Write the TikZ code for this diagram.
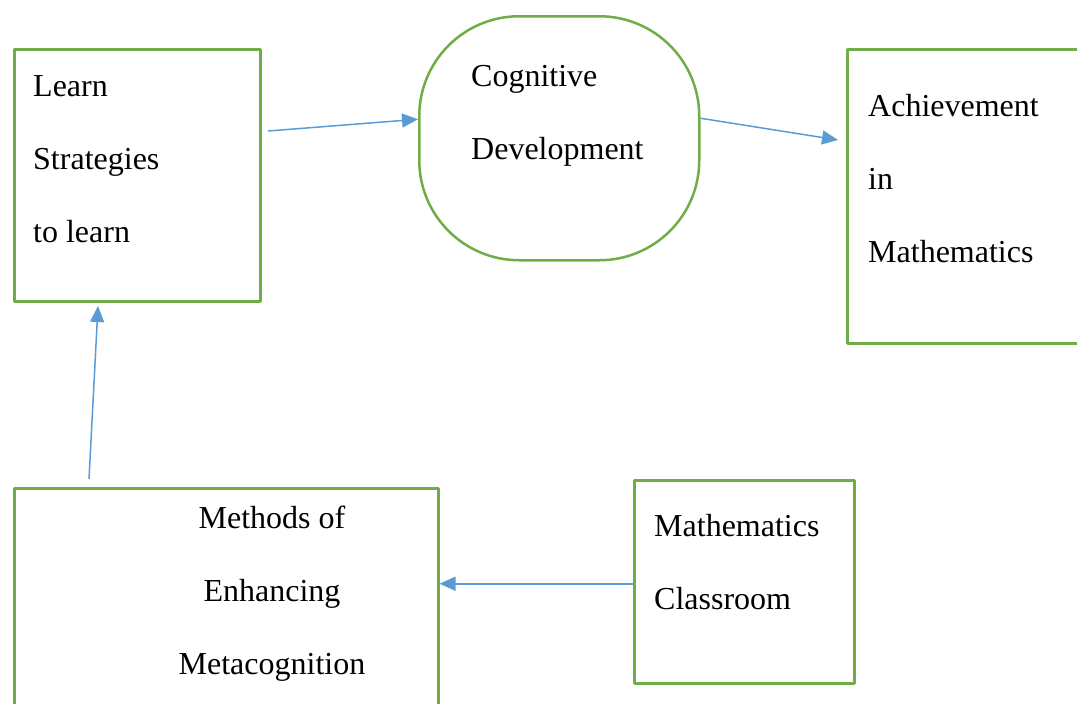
\documentclass[tikz,border=0pt]{standalone}
\usepackage{fontspec}
\setmainfont{Liberation Serif}
\usetikzlibrary{arrows.meta}
\definecolor{boxgreen}{HTML}{70AD47}
\definecolor{arrblue}{HTML}{5B9BD5}
\tikzset{
	box/.style={draw=boxgreen,line width=2.5pt,inner sep=0pt,anchor=north west},
	txt/.style={inner sep=0pt,anchor=north west,align=left,font=\fontsize{32}{73}\selectfont},
	arr/.style={draw=arrblue,line width=1.5pt,-{Triangle[length=16pt,width=14pt]}}
}
\begin{document}
\begin{tikzpicture}[x=1pt,y=-1pt,line join=round]
	\useasboundingbox (0,0) rectangle (1077,704);
	% boxes
	\node[box,minimum width=246pt,minimum height=252pt] (ls) at (13,48) {};
	\node[box,minimum width=280pt,minimum height=244pt,rounded corners=100pt] (cog) at (418,15) {};
	\node[box,minimum width=270pt,minimum height=294pt] (ach) at (846,48) {};
	\node[box,minimum width=424pt,minimum height=250pt] (meth) at (13,487) {};
	\node[box,minimum width=220pt,minimum height=203pt] (room) at (633,479) {};
	% texts
	\node[txt] (ls-t) at (33,75) {Learn\\Strategies\\to learn};
	\node[txt] (cog-t) at (471,65) {Cognitive\\Development};
	\node[txt] (ach-t) at (868,94) {Achievement\\in\\Mathematics};
	\node[txt,anchor=north,align=center] (meth-t) at (272,506) {Methods of\\Enhancing\\Metacognition};
	\node[txt] (room-t) at (654,514) {Mathematics\\Classroom};
	% arrows
	\coordinate (ls-out) at (268,131);
	\coordinate (ls-in) at (98,306);
	\coordinate (meth-out) at (89,479);
	\coordinate (ach-in) at (838,140);
	\draw[arr] (ls-out) -- ([yshift=19pt]cog.west);
	\draw[arr] ([yshift=20pt]cog.east) -- (ach-in);
	\draw[arr] (meth-out) -- (ls-in);
	\draw[arr] ([yshift=-2pt]room.west) -- ([yshift=-2pt]room.west -| meth.east);
\end{tikzpicture}
\end{document}
